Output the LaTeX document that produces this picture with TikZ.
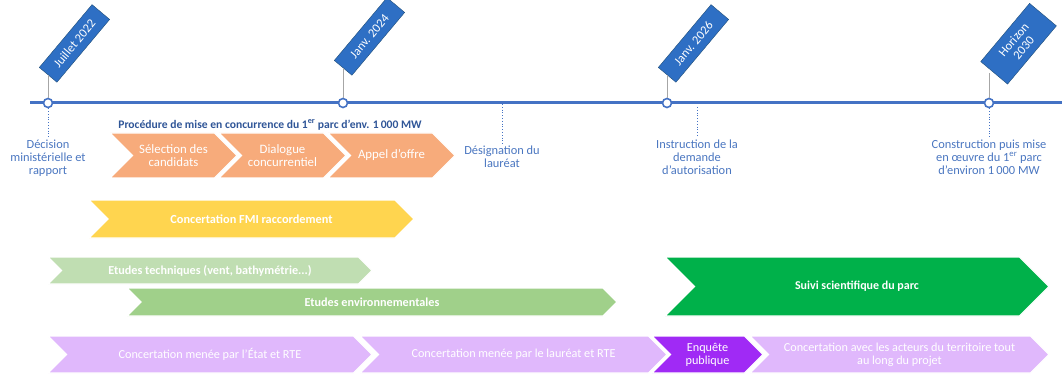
\documentclass[tikz,border=0pt]{standalone}
\usepackage{fontspec}
\setmainfont{Carlito}
\usetikzlibrary{shapes.symbols}
\definecolor{bleuligne}{HTML}{4472C4}
\definecolor{bleutexte}{HTML}{4A76C0}
\definecolor{bleutitre}{HTML}{2F5597}
\definecolor{bleudrapeau}{HTML}{2E6FC4}
\definecolor{bleufonce}{HTML}{1F4E79}
\definecolor{gris}{HTML}{A6A6A6}
\definecolor{orange}{HTML}{F7AB7B}
\definecolor{jaune}{HTML}{FFD54F}
\definecolor{vertclair}{HTML}{C0DEB2}
\definecolor{vert}{HTML}{A0D08A}
\definecolor{vertvif}{HTML}{00B14A}
\definecolor{mauve}{HTML}{E0B8FC}
\definecolor{violet}{HTML}{A02AF5}
\begin{document}
\begin{tikzpicture}[
        x=1pt, y=-1pt,
        every node/.style = {
            align=center,
            font=\fontsize{12.2}{13}\selectfont
        },
        jalon/.style={circle, draw=bleuligne, fill=white, line width=1.6pt, minimum size=9pt, inner sep=0pt},
        drapeau/.style={
            shape=rectangle,
            draw=bleufonce,
            fill=bleudrapeau,
            text=white,
            rotate=50,
            anchor=west,
            minimum width=82pt,
            minimum height=23pt,
            inner sep=1pt,
            font=\fontsize{12.5}{13}\selectfont
        },
        mat/.style={draw=gris, line width=0.8pt},
        pointille/.style={draw=bleuligne, dotted, line width=0.8pt},
        etiquette/.style={text=bleutexte, inner sep=2pt, font=\fontsize{12.4}{13}\selectfont},
        chev/.style={
            shape=signal,
            signal from=west,
            signal to=east,
            signal pointer angle=90,
            draw=white,
            line width=1.2pt,
            inner sep=0pt,
            text=white
        }
    ]
    \useasboundingbox (0,0) rectangle (1062,374);

    % FRISE
    \coordinate (debut) at (30,103);
    \coordinate (fin) at (1062,103);
    \coordinate (designation) at (502,104);
    \coordinate (instruction) at (697,107);
    \draw[bleuligne, line width=3pt] (debut) -- (fin);

    % DRAPEAUX
    \node[drapeau] (d22) at (48,75) {Juillet 2022};
    \node[drapeau] (d24) at (343,68) {Janv. 2024};
    \node[drapeau] (d26) at (667,75) {Janv. 2026};
    \node[drapeau, minimum width=76pt, minimum height=35pt] (d30) at (994,73) {Horizon\\2030};

    % JALONS
    \node[jalon] (j22) at (48,103) {};
    \node[jalon] (j24) at (343,103) {};
    \node[jalon] (j26) at (667,103) {};
    \node[jalon] (j30) at (989,103) {};
    \draw[mat] (j22.north) -- (j22 |- d22.west);
    \draw[mat] (j24.north) -- (j24 |- d24.west);
    \draw[mat] (j26.north) -- (j26 |- d26.west);
    \draw[mat] (j30.north) -- (j30 |- d30.west);

    % ETIQUETTES
    \node[etiquette] (l22) at (48,158) {Décision\\ministérielle et\\rapport};
    \node[etiquette] (l24) at (502,157) {Désignation du\\lauréat};
    \node[etiquette] (l26) at (697,157) {Instruction de la\\demande\\d’autorisation};
    \node[etiquette] (l30) at (989,157) {Construction puis mise\\en œuvre du 1\textsuperscript{er} parc\\d’environ 1\,000 MW};
    \draw[pointille] (j22.south) -- (l22.north);
    \draw[pointille] (designation) -- (l24.north);
    \draw[pointille] (instruction) -- (l26.north);
    \draw[pointille] (j30.south) -- (l30.north);

    % PROCEDURE
    \node[text=bleutitre, font=\fontsize{11.6}{13}\selectfont\bfseries] (procedure) at (270,125)
        {Procédure de mise en concurrence du 1\textsuperscript{er} parc d’env. 1\,000 MW};
    \node[chev, fill=orange, minimum width=127pt, minimum height=45pt, font=\fontsize{12.8}{13}\selectfont] (selection) at (173.5,155.5) {Sélection des\\candidats};
    \node[chev, fill=orange, minimum width=127pt, minimum height=45pt, font=\fontsize{12.8}{13}\selectfont] (dialogue) at (282.5,155.5) {Dialogue\\concurrentiel};
    \node[chev, fill=orange, minimum width=127pt, minimum height=45pt, font=\fontsize{12.8}{13}\selectfont] (appel) at (391.5,155.5) {Appel d’offre};

    % CONCERTATION ET ETUDES
    \node[chev, fill=jaune, minimum width=325pt, minimum height=38pt, font=\fontsize{12.3}{13}\selectfont\bfseries] (fmi) at (251.5,219) {Concertation FMI raccordement};
    \node[chev, fill=vertclair, minimum width=324pt, minimum height=27pt, font=\fontsize{12.2}{13}\selectfont\bfseries] (techniques) at (210,270.5) {Etudes techniques (vent, bathymétrie...)};
    \node[chev, fill=vert, minimum width=490pt, minimum height=28pt, font=\fontsize{12.2}{13}\selectfont\bfseries] (environnement) at (372,302) {Etudes environnementales};
    \node[chev, fill=vertvif, minimum width=384pt, minimum height=59pt, font=\fontsize{12}{13}\selectfont\bfseries] (suivi) at (857,286.5) {Suivi scientifique du parc};

    % CONCERTATION CONTINUE
    \node[chev, fill=mauve, minimum width=324pt, minimum height=37pt] (etat) at (210,354.5) {Concertation menée par l’État et RTE};
    \node[chev, fill=mauve, minimum width=307pt, minimum height=37pt] (laureat) at (513.5,354.5) {Concertation menée par le lauréat et RTE};
    \node[chev, fill=violet, minimum width=111pt, minimum height=37pt] (enquete) at (707.5,354.5) {Enquête\\publique};
    \node[chev, fill=mauve, minimum width=299pt, minimum height=37pt] (acteurs) at (899.5,354.5) {Concertation avec les acteurs du territoire tout\\au long du projet};
\end{tikzpicture}
\end{document}
